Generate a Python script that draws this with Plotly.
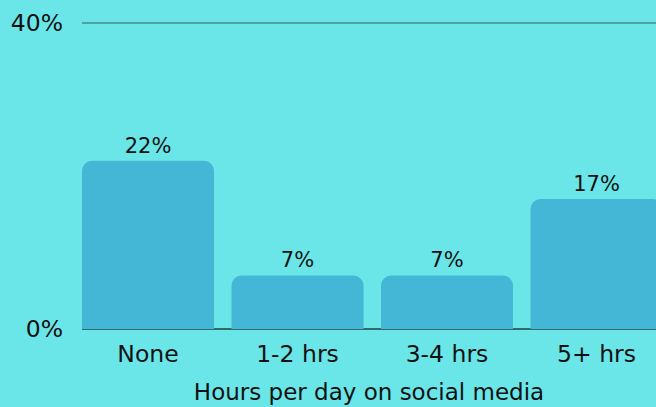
import plotly.graph_objects as go

categories = ["None", "1-2 hrs", "3-4 hrs", "5+ hrs"]
values = [22, 7, 7, 17]
value_labels = ["22%", "7%", "7%", "17%"]
y_tick_vals = [0, 40]
y_tick_text = ["0%", "40%"]

BG = "#6AE6E8"
BAR = "#45B7D6"
FONT = "DejaVu Sans"
TXT = "#111111"

fig = go.Figure(
    go.Bar(
        x=list(range(len(categories))),
        y=values,
        text=value_labels,
        textposition="outside",
        textfont=dict(family=FONT, size=21, color=TXT),
        marker=dict(color=BAR, line=dict(width=0)),
        width=0.883,
        cliponaxis=False,
    )
)

fig.update_layout(
    width=656,
    height=407,
    margin=dict(l=82, r=0, t=22, b=78),
    paper_bgcolor=BG,
    plot_bgcolor=BG,
    barcornerradius=10,
    showlegend=False,
    font=dict(family=FONT, color=TXT),
)

fig.update_xaxes(
    range=[-0.4415, 3.398],
    tickvals=list(range(len(categories))),
    ticktext=categories,
    tickfont=dict(family=FONT, size=23.5, color=TXT),
    showgrid=False,
    zeroline=False,
    showline=False,
    ticks="",
    ticklabelstandoff=8,
    title=dict(text="Hours per day on social media", font=dict(family=FONT, size=23, color=TXT), standoff=17),
)

fig.update_yaxes(
    range=[0, 40.15],
    tickvals=y_tick_vals,
    ticktext=y_tick_text,
    tickfont=dict(family=FONT, size=23.5, color=TXT),
    showgrid=True,
    gridcolor="#4AA4A6",
    gridwidth=2,
    zeroline=True,
    zerolinecolor="#2F6B6D",
    zerolinewidth=2,
    showline=False,
    ticks="",
    ticklabelstandoff=18,
    layer="below traces",
)

fig.write_html(
    "out.html",
    config={"displayModeBar": False},
    post_script="document.body.style.margin='0';document.body.style.background='%s';" % BG,
)
